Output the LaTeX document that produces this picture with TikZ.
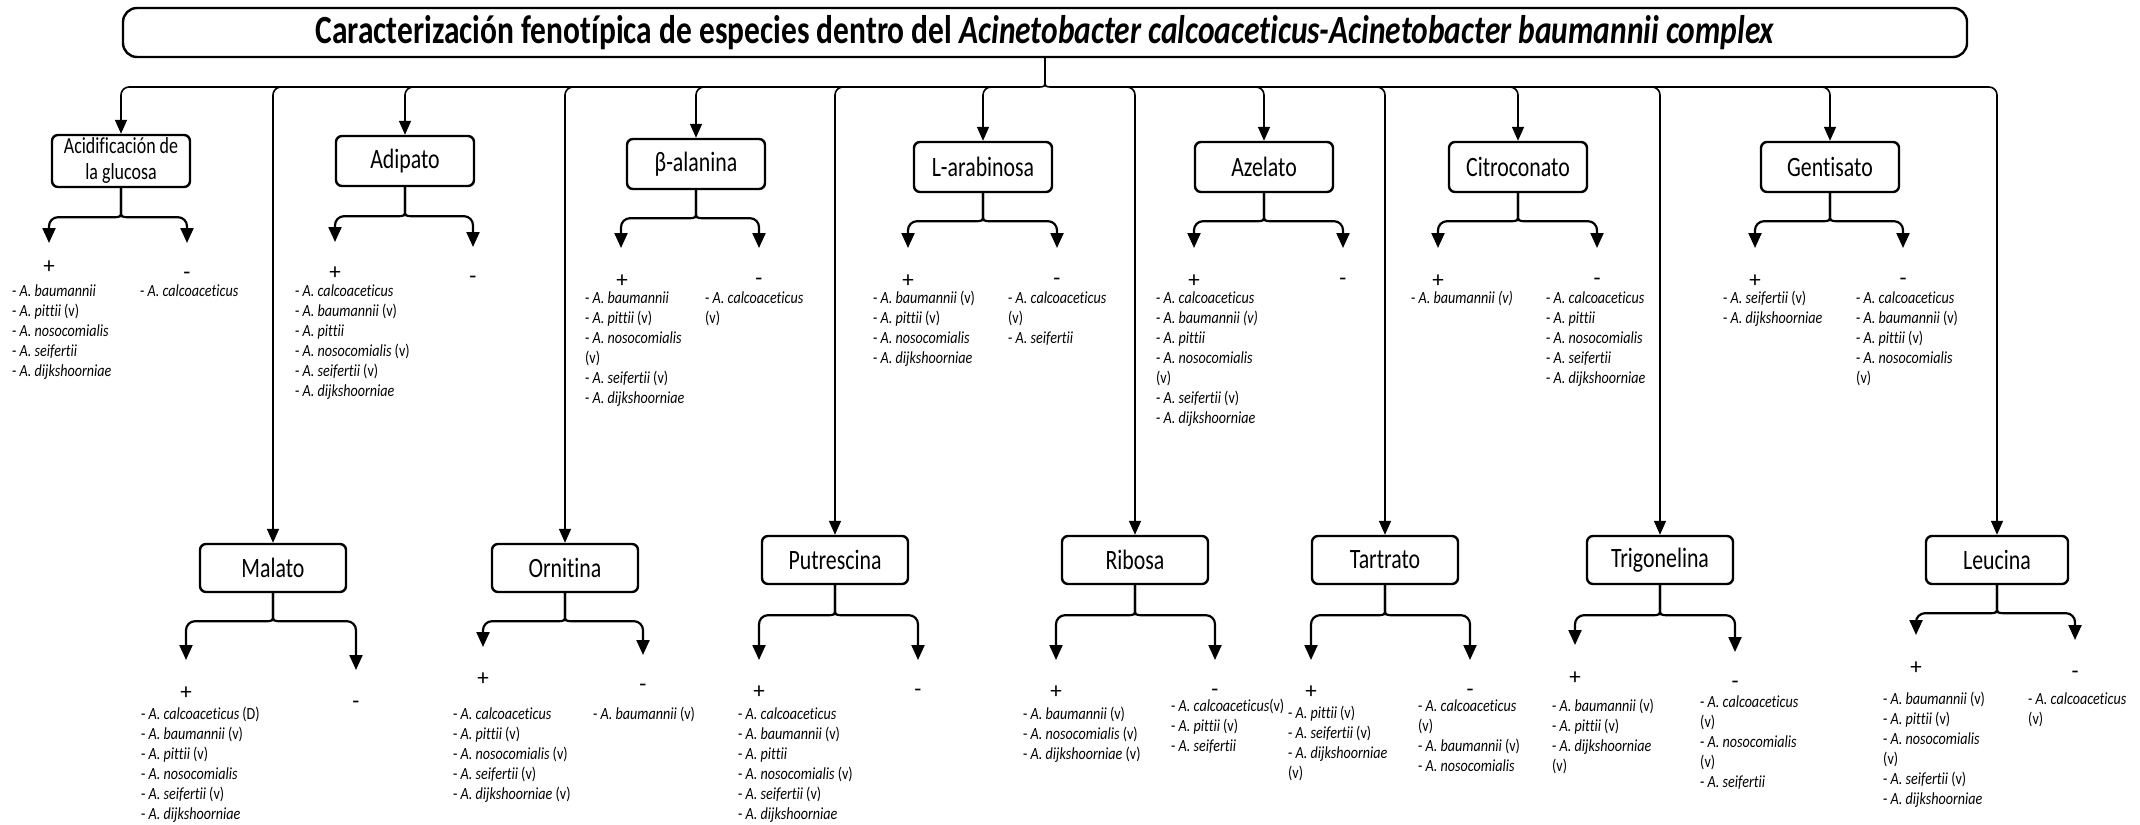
\documentclass[tikz,border=0pt]{standalone}
\usepackage{fontspec}
\setmainfont{Carlito}[Ligatures=NoCommon]
\usepackage{graphicx}
\usetikzlibrary{arrows.meta,calc}

% horizontally condensed text, as in the drawing
\newcommand{\sq}[1]{\scalebox{0.78}[1]{#1}}
\newcommand{\spp}[1]{- \textit{A. #1}}
\newcommand{\lst}[1]{\scalebox{0.83}[1]{\fontsize{17}{20}\selectfont\begin{tabular}{@{}l@{}}#1\end{tabular}}}
\newcommand{\blab}[1]{\sq{\fontsize{28}{30}\selectfont #1}}

% fork below a box: stem, brace tip, two elbow arrows
\newcommand{\fork}[4]{%
  \draw[fk] (#1.south) -- ($(#1.south)+(0,#2-7)$) .. controls ($(#1.south)+(0,#2)$) .. ($(#1.south)+(-9,#2)$) [rounded corners=9pt] -| (#3);
  \draw[fk] (#1.south) -- ($(#1.south)+(0,#2-7)$) .. controls ($(#1.south)+(0,#2)$) .. ($(#1.south)+(9,#2)$) [rounded corners=9pt] -| (#4);
}

\tikzset{
  box/.style={draw, line width=2.4pt, rounded corners=6pt, minimum width=138pt,
    minimum height=50pt, inner sep=0pt},
  wbox/.style={box, minimum width=146pt, minimum height=48pt},
  conn/.style={line width=1.6pt},
  drop/.style={line width=1.6pt, rounded corners=8pt, -{Triangle[length=14pt,width=12pt]}},
  fk/.style={line width=2.2pt, -{Triangle[length=15pt,width=13pt]}},
  pm/.style={font=\fontsize{23}{23}\selectfont, inner sep=0pt},
  lstn/.style={anchor=north west, inner sep=0pt},
}

\begin{document}
\begin{tikzpicture}[x=1pt, y=-1pt]
\useasboundingbox (0,0) rectangle (2140,824);

% title
\node[draw, line width=2.4pt, rounded corners=14pt, minimum width=1844pt,
  minimum height=49pt, inner sep=0pt] (title) at (1045,32.5)
  {\resizebox{1459pt}{\height}{\fontsize{40}{40}\selectfont\bfseries Caracterización fenotípica de especies dentro del \textit{Acinetobacter calcoaceticus-Acinetobacter baumannii complex}}};

% first row of tests
\node[box, minimum height=52pt] (acid) at (121,161)
  {\sq{\fontsize{23}{26}\selectfont\begin{tabular}{@{}c@{}}Acidificación de\\la glucosa\end{tabular}}};
\node[box] (adip)  at (405,161)  {\blab{Adipato}};
\node[box] (bala)  at (696,164)  {\blab{β-alanina}};
\node[box] (larab) at (983,167)  {\blab{L-arabinosa}};
\node[box] (azel)  at (1264,167) {\blab{Azelato}};
\node[box] (citro) at (1518,167) {\blab{Citroconato}};
\node[box] (gent)  at (1830,167) {\blab{Gentisato}};

% second row of tests
\node[wbox] (mal)  at (273,568)  {\blab{Malato}};
\node[wbox] (orn)  at (565,568)  {\blab{Ornitina}};
\node[wbox] (put)  at (835,560)  {\blab{Putrescina}};
\node[wbox] (rib)  at (1135,560) {\blab{Ribosa}};
\node[wbox] (tart) at (1385,560) {\blab{Tartrato}};
\node[wbox] (trig) at (1660,560) {\blab{Trigonelina}};
\node[wbox, minimum width=142pt] (leuc) at (1997,560) {\blab{Leucina}};

% distribution from the title
\coordinate (stem) at (1045,80);
\coordinate (busL) at (1037,87);
\coordinate (busR) at (1053,87);
\draw[conn] (title.south) -- (stem) .. controls (1045,87) .. (busL);
\draw[conn] (stem) .. controls (1045,87) .. (busR);
\foreach \t in {acid,mal,adip,orn,bala,put,larab}
  \draw[drop] (busL) -| (\t.north);
\foreach \t in {rib,azel,tart,citro,trig,gent,leuc}
  \draw[drop] (busR) -| (\t.north);

% arrow ends of the forks
\coordinate (acidP) at (49,243);   \coordinate (acidM) at (187,243);
\coordinate (adipP) at (335,242);  \coordinate (adipM) at (473,247);
\coordinate (balaP) at (621,248);  \coordinate (balaM) at (759,248);
\coordinate (larabP) at (908,248); \coordinate (larabM) at (1057,248);
\coordinate (azelP) at (1194,248); \coordinate (azelM) at (1343,248);
\coordinate (citroP) at (1438,248);\coordinate (citroM) at (1597,248);
\coordinate (gentP) at (1755,248); \coordinate (gentM) at (1903,248);
\coordinate (malP) at (186,660);   \coordinate (malM) at (356,670);
\coordinate (ornP) at (483,647);   \coordinate (ornM) at (643,655);
\coordinate (putP) at (759,660);   \coordinate (putM) at (918,660);
\coordinate (ribP) at (1056,660);  \coordinate (ribM) at (1215,660);
\coordinate (tartP) at (1311,660); \coordinate (tartM) at (1470,660);
\coordinate (trigP) at (1575,645); \coordinate (trigM) at (1735,652);
\coordinate (leucP) at (1916,635); \coordinate (leucM) at (2075,640);

\fork{acid}{29}{acidP}{acidM}
\fork{adip}{29}{adipP}{adipM}
\fork{bala}{28}{balaP}{balaM}
\fork{larab}{28}{larabP}{larabM}
\fork{azel}{28}{azelP}{azelM}
\fork{citro}{28}{citroP}{citroM}
\fork{gent}{28}{gentP}{gentM}
\fork{mal}{28}{malP}{malM}
\fork{orn}{28}{ornP}{ornM}
\fork{put}{30}{putP}{putM}
\fork{rib}{30}{ribP}{ribM}
\fork{tart}{30}{tartP}{tartM}
\fork{trig}{30}{trigP}{trigM}
\fork{leuc}{28}{leucP}{leucM}

% result signs
\node[pm] (acidS1) at (49,267) {+};   \node[pm] (acidS2) at (187,276) {-};
\node[pm] (adipS1) at (335,273) {+};  \node[pm] (adipS2) at (473,280) {-};
\node[pm] (balaS1) at (622,281) {+};  \node[pm] (balaS2) at (759,282) {-};
\node[pm] (larabS1) at (908,281) {+}; \node[pm] (larabS2) at (1057,282) {-};
\node[pm] (azelS1) at (1194,281) {+}; \node[pm] (azelS2) at (1343,282) {-};
\node[pm] (citroS1) at (1438,281) {+};\node[pm] (citroS2) at (1597,282) {-};
\node[pm] (gentS1) at (1755,281) {+}; \node[pm] (gentS2) at (1903,282) {-};
\node[pm] (malS1) at (186,693) {+};   \node[pm] (malS2) at (356,705) {-};
\node[pm] (ornS1) at (483,679) {+};   \node[pm] (ornS2) at (643,688) {-};
\node[pm] (putS1) at (759,692) {+};   \node[pm] (putS2) at (918,693) {-};
\node[pm] (ribS1) at (1056,692) {+};  \node[pm] (ribS2) at (1215,693) {-};
\node[pm] (tartS1) at (1311,692) {+}; \node[pm] (tartS2) at (1470,693) {-};
\node[pm] (trigS1) at (1575,678) {+}; \node[pm] (trigS2) at (1735,685) {-};
\node[pm] (leucS1) at (1916,668) {+}; \node[pm] (leucS2) at (2075,675) {-};

% species lists
\node[lstn] (acidL1) at (12,282) {\lst{\spp{baumannii}\\ \spp{pittii} (v)\\ \spp{nosocomialis}\\ \spp{seifertii}\\ \spp{dijkshoorniae}}};
\node[lstn] (acidL2) at (140,282) {\lst{\spp{calcoaceticus}}};
\node[lstn] (adipL1) at (295,282) {\lst{\spp{calcoaceticus}\\ \spp{baumannii} (v)\\ \spp{pittii}\\ \spp{nosocomialis} (v)\\ \spp{seifertii} (v)\\ \spp{dijkshoorniae}}};
\node[lstn] (balaL1) at (585,289) {\lst{\spp{baumannii}\\ \spp{pittii} (v)\\ \spp{nosocomialis}\\ (v)\\ \spp{seifertii} (v)\\ \spp{dijkshoorniae}}};
\node[lstn] (balaL2) at (705,289) {\lst{\spp{calcoaceticus}\\ (v)}};
\node[lstn] (larabL1) at (873,289) {\lst{\spp{baumannii} (v)\\ \spp{pittii} (v)\\ \spp{nosocomialis}\\ \spp{dijkshoorniae}}};
\node[lstn] (larabL2) at (1008,289) {\lst{\spp{calcoaceticus}\\ (v)\\ \spp{seifertii}}};
\node[lstn] (azelL1) at (1156,289) {\lst{\spp{calcoaceticus}\\ \spp{baumannii \textit{(v)}}\\ \spp{pittii}\\ \spp{nosocomialis}\\ (v)\\ \spp{seifertii} (v)\\ \spp{dijkshoorniae}}};
\node[lstn] (citroL1) at (1411,289) {\lst{\spp{baumannii (v)}}};
\node[lstn] (citroL2) at (1546,289) {\lst{\spp{calcoaceticus}\\ \spp{pittii}\\ \spp{nosocomialis}\\ \spp{seifertii}\\ \spp{dijkshoorniae}}};
\node[lstn] (gentL1) at (1723,289) {\lst{\spp{seifertii} (v)\\ \spp{dijkshoorniae}}};
\node[lstn] (gentL2) at (1856,289) {\lst{\spp{calcoaceticus}\\ \spp{baumannii} (v)\\ \spp{pittii} (v)\\ \spp{nosocomialis}\\ (v)}};
\node[lstn] (malL1) at (141,705) {\lst{\spp{calcoaceticus} (D)\\ \spp{baumannii} (v)\\ \spp{pittii} (v)\\ \spp{nosocomialis}\\ \spp{seifertii} (v)\\ \spp{dijkshoorniae}}};
\node[lstn] (ornL1) at (453,705) {\lst{\spp{calcoaceticus}\\ \spp{pittii} (v)\\ \spp{nosocomialis} (v)\\ \spp{seifertii} (v)\\ \spp{dijkshoorniae} (v)}};
\node[lstn] (ornL2) at (593,705) {\lst{\spp{baumannii} (v)}};
\node[lstn] (putL1) at (738,705) {\lst{\spp{calcoaceticus}\\ \spp{baumannii} (v)\\ \spp{pittii}\\ \spp{nosocomialis} (v)\\ \spp{seifertii} (v)\\ \spp{dijkshoorniae}}};
\node[lstn] (ribL1) at (1023,705) {\lst{\spp{baumannii} (v)\\ \spp{nosocomialis} (v)\\ \spp{dijkshoorniae} (v)}};
\node[lstn] (ribL2) at (1171,697) {\lst{\spp{calcoaceticus}(v)\\ \spp{pittii} (v)\\ \spp{seifertii}}};
\node[lstn] (tartL1) at (1288,704) {\lst{\spp{pittii} (v)\\ \spp{seifertii} (v)\\ \spp{dijkshoorniae}\\ (v)}};
\node[lstn] (tartL2) at (1418,697) {\lst{\spp{calcoaceticus}\\ (v)\\ \spp{baumannii} (v)\\ \spp{nosocomialis}}};
\node[lstn] (trigL1) at (1552,697) {\lst{\spp{baumannii} (v)\\ \spp{pittii} (v)\\ \spp{dijkshoorniae}\\ (v)}};
\node[lstn] (trigL2) at (1700,693) {\lst{\spp{calcoaceticus}\\ (v)\\ \spp{nosocomialis}\\ (v)\\ \spp{seifertii}}};
\node[lstn] (leucL1) at (1883,690) {\lst{\spp{baumannii} (v)\\ \spp{pittii} (v)\\ \spp{nosocomialis}\\ (v)\\ \spp{seifertii} (v)\\ \spp{dijkshoorniae}}};
\node[lstn] (leucL2) at (2028,690) {\lst{\spp{calcoaceticus}\\ (v)}};
\end{tikzpicture}
\end{document}
